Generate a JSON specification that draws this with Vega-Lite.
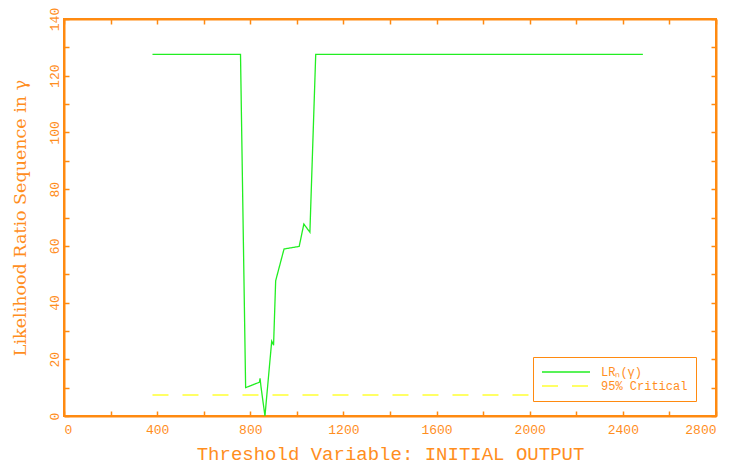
{
  "$schema": "https://vega.github.io/schema/vega-lite/v6.json",
  "width": 652,
  "height": 397,
  "autosize": "none",
  "padding": {"left": 64, "top": 19, "right": 21, "bottom": 55},
  "background": "white",
  "config": {
    "view": {"stroke": "#ff8a10", "strokeWidth": 2},
    "axis": {
      "domainColor": "#ff8a10",
      "domainWidth": 2,
      "tickColor": "#ff8a10",
      "tickWidth": 1.5,
      "tickSize": -5,
      "grid": false,
      "labelColor": "#ff8e1e",
      "labelFont": "Liberation Mono",
      "labelFontSize": 13,
      "titleColor": "#ff8e1e",
      "titleFontWeight": "normal"
    }
  },
  "data": {
    "values": [
      {"series": "LRₙ(γ)", "x": 380, "y": 127.5},
      {"series": "LRₙ(γ)", "x": 758, "y": 127.5},
      {"series": "LRₙ(γ)", "x": 780, "y": 10.0},
      {"series": "LRₙ(γ)", "x": 839, "y": 11.9},
      {"series": "LRₙ(γ)", "x": 842, "y": 13.3},
      {"series": "LRₙ(γ)", "x": 846, "y": 10.3},
      {"series": "LRₙ(γ)", "x": 863, "y": 0.0},
      {"series": "LRₙ(γ)", "x": 892, "y": 26.4},
      {"series": "LRₙ(γ)", "x": 900, "y": 25.0},
      {"series": "LRₙ(γ)", "x": 909, "y": 47.7},
      {"series": "LRₙ(γ)", "x": 945, "y": 58.9},
      {"series": "LRₙ(γ)", "x": 1010, "y": 59.8},
      {"series": "LRₙ(γ)", "x": 1030, "y": 67.7},
      {"series": "LRₙ(γ)", "x": 1056, "y": 64.8},
      {"series": "LRₙ(γ)", "x": 1081, "y": 127.5},
      {"series": "LRₙ(γ)", "x": 2486, "y": 127.5},
      {"series": "95% Critical", "x": 380, "y": 7.4},
      {"series": "95% Critical", "x": 2486, "y": 7.4}
    ]
  },
  "encoding": {
    "x": {"field": "x", "type": "quantitative", "scale": {"domain": [0, 2800], "nice": false, "zero": false}},
    "y": {"field": "y", "type": "quantitative", "scale": {"domain": [0, 140], "nice": false}},
    "color": {
      "field": "series", "type": "nominal",
      "scale": {"domain": ["LRₙ(γ)", "95% Critical"], "range": ["#22ee22", "#ffff33"]},
      "legend": {
        "title": null,
        "orient": "none",
        "legendX": 469,
        "legendY": 338,
        "fillColor": "white",
        "strokeColor": "#ff8a10",
        "padding": 8,
        "labelFont": "Liberation Mono",
        "labelFontSize": 12,
        "labelColor": "#ff8e1e",
        "labelOffset": 10,
        "symbolType": "stroke",
        "symbolSize": 2304,
        "symbolStrokeWidth": 1.5,
        "clipHeight": 14,
        "rowPadding": 0
      }
    },
    "strokeDash": {
      "field": "series", "type": "nominal",
      "scale": {"domain": ["LRₙ(γ)", "95% Critical"], "range": [[1, 0], [16, 14]]},
      "legend": null
    }
  },
  "layer": [
    {
      "transform": [{"filter": "datum.series === 'LRₙ(γ)'"}],
      "mark": {"type": "line", "strokeWidth": 1.3},
      "encoding": {
        "x": {"field": "x", "type": "quantitative", "axis": {
          "orient": "bottom",
          "values": [0,200,400,600,800,1000,1200,1400,1600,1800,2000,2200,2400,2600,2800],
          "labelExpr": "datum.value % 400 === 0 ? datum.label : ''",
          "format": "d",
          "labelPadding": 12,
          "title": "Threshold Variable: INITIAL OUTPUT",
          "titleFont": "Liberation Mono",
          "titleFontSize": 19,
          "titlePadding": 8
        }},
        "y": {"field": "y", "type": "quantitative", "axis": {
          "orient": "left",
          "values": [0,10,20,30,40,50,60,70,80,90,100,110,120,130,140],
          "labelExpr": "datum.value % 20 === 0 ? datum.label : ''",
          "labelAngle": -90,
          "labelAlign": "center",
          "labelBaseline": "bottom",
          "labelPadding": 8,
          "title": "Likelihood Ratio Sequence in γ",
          "titleFont": "DejaVu Serif",
          "titleFontSize": 17.5,
          "titlePadding": 19
        }}
      }
    },
    {
      "transform": [{"filter": "datum.series === '95% Critical'"}],
      "mark": {"type": "line", "strokeWidth": 1.3},
      "encoding": {
        "x": {"field": "x", "type": "quantitative", "axis": {
          "orient": "top",
          "values": [0,200,400,600,800,1000,1200,1400,1600,1800,2000,2200,2400,2600,2800],
          "labels": false,
          "title": null
        }},
        "y": {"field": "y", "type": "quantitative", "axis": {
          "orient": "right",
          "values": [0,10,20,30,40,50,60,70,80,90,100,110,120,130,140],
          "labels": false,
          "title": null
        }}
      }
    }
  ],
  "resolve": {"axis": {"x": "independent", "y": "independent"}}
}
